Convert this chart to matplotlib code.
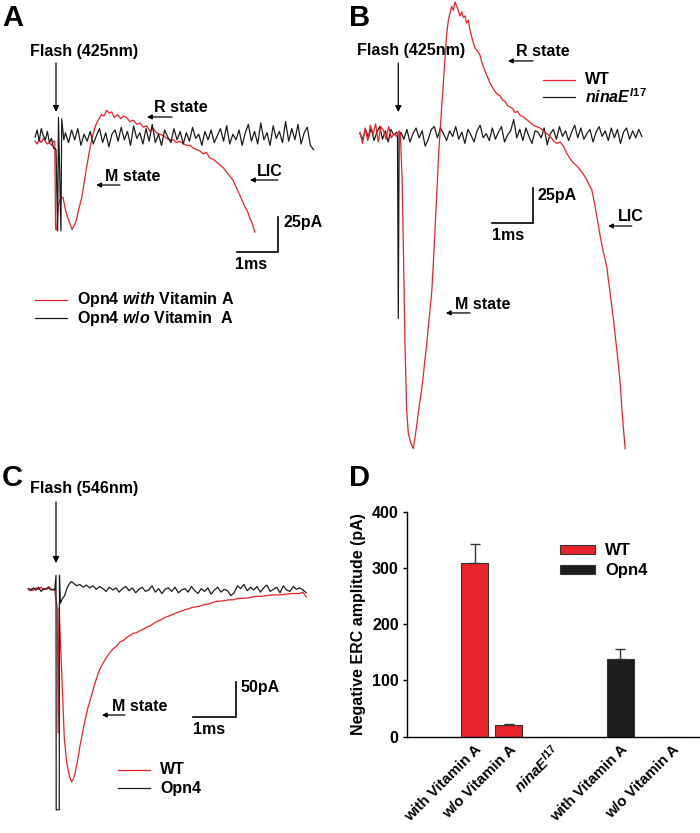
import matplotlib.pyplot as plt
import numpy as np
from matplotlib.patches import Patch

plt.rcParams['font.family'] = ['Liberation Sans', 'DejaVu Sans']
plt.rcParams['font.weight'] = 'bold'
plt.rcParams['mathtext.fontset'] = 'custom'
plt.rcParams['mathtext.it'] = 'Liberation Sans:italic:bold'
plt.rcParams['mathtext.rm'] = 'Liberation Sans:bold'

RED = '#e8232a'
BLACK = '#1c1c1c'
FS = 11.5

# ---------------- data (time in ms, current in pA) ----------------
# panel A : Opn4 with / without vitamin A, 425 nm flash
a_red_pre = [-3, -5, -2, -4, -1, -3, -5, -4, -6, -3]
a_red = [(-0.03, -3), (-0.01, -66), (0.02, -66), (0.06, -48), (0.11, -44), (0.17, -43),
         (0.23, -52), (0.28, -57), (0.33, -61), (0.39, -66), (0.45, -63), (0.50, -59),
         (0.56, -51), (0.63, -43), (0.69, -32), (0.75, -21), (0.81, -11), (0.87, -2),
         (0.93, 5), (0.99, 10), (1.05, 13), (1.11, 16), (1.17, 15), (1.24, 19), (1.30, 17),
         (1.36, 18), (1.42, 14), (1.50, 16), (1.58, 13), (1.64, 15), (1.72, 14), (1.80, 11),
         (1.89, 12), (1.97, 9), (2.05, 10), (2.13, 7), (2.21, 8), (2.29, 4), (2.37, 6),
         (2.45, 3), (2.53, 2), (2.62, 1), (2.70, -1), (2.78, -2), (2.86, -2), (2.94, -4),
         (3.02, -3), (3.11, -5), (3.19, -6), (3.27, -6), (3.35, -8), (3.43, -9), (3.51, -10),
         (3.59, -12), (3.67, -11), (3.75, -15), (3.84, -16), (3.92, -18), (4.00, -20),
         (4.08, -22), (4.16, -25), (4.24, -28), (4.32, -31), (4.41, -37), (4.49, -42),
         (4.55, -46), (4.61, -50), (4.67, -53), (4.73, -58), (4.79, -62), (4.85, -68)]
a_black_pre = [0, 5, -3, 6, 1, -2, 4, -4, -1, -8]
a_black_art = [(-0.03, -8), (0.0, -9), (0.04, -67), (0.06, 14), (0.12, -67), (0.14, 13), (0.19, -2)]
a_black_post = [3, -4, 5, -2, 6, -6, 2, -3, 4, -5, 1, 6, -4, 3, -7, 2, 5, -3, 7, -2, 4, -6,
                8, -1, 3, -5, 6, -3, 9, -4, 2, -6, 5, 0, -4, 6, -2, 4, -5, 3, -3, 7, -1, 2,
                -6, 4, -2, 5, -4, 1, 6, -3, 8, -5, 2, -2, 5, -6, 3, 9, -3, 4, -5, 10, -2, 3,
                -6, 8, -1, 4, -4, 11, -3, 6, -2, 9, -5, 3, 7, -6, -9]

# panel B : WT and ninaE^I17, 425 nm flash
b_red_pre = [2, -6, 5, -4, 7, 0, 8, -5, 6, 3, -3, 6, -2, 1, -1, 3]
b_red = [(0.05, 0), (0.09, -30), (0.12, -77), (0.16, -149), (0.20, -196), (0.24, -213),
         (0.30, -220), (0.36, -224), (0.40, -216), (0.44, -208), (0.48, -198), (0.52, -190),
         (0.56, -182), (0.60, -172), (0.64, -160), (0.68, -150), (0.72, -137), (0.76, -125),
         (0.80, -113), (0.84, -92), (0.88, -68), (0.92, -44), (0.96, -18), (1.00, 2),
         (1.04, 20), (1.08, 37), (1.12, 55), (1.16, 72), (1.20, 82), (1.24, 87), (1.28, 92),
         (1.32, 89), (1.36, 95), (1.40, 92), (1.44, 89), (1.48, 85), (1.52, 88), (1.56, 84),
         (1.60, 85), (1.64, 80), (1.68, 82), (1.72, 75), (1.76, 70), (1.80, 66), (1.84, 62),
         (1.90, 60), (1.96, 57), (2.00, 52), (2.04, 49), (2.10, 44), (2.16, 40), (2.20, 37),
         (2.26, 34), (2.32, 31), (2.38, 29), (2.44, 28), (2.50, 25), (2.56, 24), (2.62, 21),
         (2.68, 20), (2.74, 19), (2.80, 16), (2.86, 17), (2.92, 14), (3.00, 13), (3.08, 11),
         (3.16, 9), (3.24, 7), (3.32, 6), (3.40, 5), (3.48, 3), (3.56, 1), (3.64, -1),
         (3.72, -4), (3.80, -6), (3.88, -5), (3.96, -8), (4.04, -13), (4.12, -17), (4.20, -20),
         (4.28, -22), (4.36, -25), (4.44, -28), (4.52, -32), (4.58, -36), (4.64, -39),
         (4.68, -45), (4.72, -51), (4.76, -58), (4.80, -65), (4.84, -72), (4.88, -78),
         (4.92, -84), (4.96, -89), (5.00, -94), (5.04, -104), (5.08, -113), (5.12, -122),
         (5.16, -132), (5.20, -143), (5.24, -153), (5.28, -165), (5.32, -177), (5.36, -195),
         (5.40, -210), (5.44, -224)]
b_black_pre = [1, -3, 4, -2, 5, -4, 2, 6, -3, 3, -5, 4, 0, 2]
b_black_art = [(-0.02, 1), (0.0, -131), (0.02, 0)]
b_black_post = [2, -3, 4, -5, 1, 5, -2, 3, -8, -3, 4, 6, -2, 5, 1, -4, 3, -1, 6, -3, 2, -6,
                4, 0, -5, 3, 7, -2, 1, -4, 5, -3, 2, 6, -5, 0, 3, 11, -2, 4, -4, 5, -1, -6,
                3, 2, -2, 5, -7, 1, 4, -3, 6, -1, 3, -4, 2, 7, -2, 5, -3, 1, 4, -5, 2, 6, -1,
                3, -4, 5, -2, 4, -6, 2, 5, -3, 3, -2, 4, -1]

# panel C : WT and Opn4, 546 nm flash
c_red_pre = [0, 2, -1, 3, 1, 4, 0, 2, 5, 1, 0]
c_red = [(-0.03, 0), (0.03, -26), (0.05, -204), (0.07, -26), (0.13, -114), (0.19, -210),
         (0.24, -243), (0.28, -257), (0.32, -268), (0.36, -274), (0.40, -270), (0.44, -262),
         (0.50, -243), (0.55, -224), (0.61, -205), (0.67, -186), (0.73, -170), (0.79, -157),
         (0.85, -144), (0.90, -133), (0.96, -122), (1.02, -112), (1.09, -104), (1.17, -96),
         (1.24, -90), (1.32, -84), (1.40, -80), (1.48, -74), (1.56, -72), (1.63, -68),
         (1.71, -65), (1.78, -62), (1.86, -61), (1.94, -58), (2.02, -56), (2.10, -53),
         (2.18, -51), (2.25, -48), (2.33, -45), (2.41, -43), (2.49, -40), (2.57, -38),
         (2.65, -36), (2.73, -34), (2.81, -32), (2.90, -30), (2.98, -28), (3.06, -27),
         (3.14, -25), (3.24, -24), (3.32, -23), (3.42, -21), (3.52, -20), (3.62, -18),
         (3.71, -16), (3.80, -16), (3.90, -15), (4.00, -14), (4.09, -14), (4.20, -12),
         (4.32, -12), (4.48, -11), (4.60, -9), (4.75, -9), (4.86, -8), (5.00, -7), (5.15, -7),
         (5.32, -6), (5.45, -5), (5.63, -5), (5.70, -3), (5.78, -10)]
c_black_pre = [2, -1, 3, 0, 4, -2, 2, 1, 3, 0, 1]
c_black_art = [(-0.03, 0), (0.0, 21), (0.005, -314), (0.075, -314), (0.08, 21), (0.10, -19),
               (0.15, -12), (0.20, -8), (0.25, 2), (0.30, 8), (0.35, 12)]
c_black_post = [10, 6, 8, 4, 7, 3, 6, 1, 5, 2, -2, 4, 0, 3, -3, 2, 5, -1, 3, -4, 1, 4, -2, 0,
                6, -3, 2, -5, 1, 3, -2, 4, -4, 0, 2, -3, 5, -1, -5, 2, -2, 3, -6, 0, 4, -3, 1,
                -1, -8, -4, 6, 2, 8, -1, 4, 0, 5, -3, 3, 7, -2, 1, 4, -4, 6, 0, -2, 5, 1, 3,
                0, -4]

# panel D : bar chart
d_labels = ['with Vitamin A', 'w/o Vitamin A', r'$\mathit{ninaE}^{\mathit{I17}}$',
            'with Vitamin A', 'w/o Vitamin A']
d_group = ['WT', 'WT', 'WT', 'Opn4', 'Opn4']
d_values = [308, 20, 0, 139, 0]
d_errors = [35, 3, 0, 17, 0]


def trace(pre, pre_span, main, post=None, post_span=None):
    t = list(np.linspace(pre_span[0], pre_span[1], len(pre)))
    y = list(pre)
    t += [p[0] for p in main]
    y += [p[1] for p in main]
    if post is not None:
        t += list(np.linspace(post_span[0], post_span[1], len(post)))
        y += list(post)
    return t, y


W, H = 700, 833
fig = plt.figure(figsize=(7, 8.33), dpi=100)


def panel_axes(left, top, width, height, x0, y0, px_ms, px_pa):
    ax = fig.add_axes([left / W, 1 - (top + height) / H, width / W, height / H])
    ax.set_xlim((left - x0) / px_ms, (left + width - x0) / px_ms)
    ax.set_ylim((y0 - top - height) / px_pa, (y0 - top) / px_pa)
    ax.axis('off')
    return ax


def arrow(ax, tip, tail, ms=9):
    ax.annotate('', xy=tip, xytext=tail,
                arrowprops=dict(arrowstyle='-|>', color='k', lw=0.9,
                                mutation_scale=ms, shrinkA=0, shrinkB=0))


def label(ax, x, y, s, **kw):
    ax.text(x, y, s, fontsize=FS, fontweight='bold', ha='left', va='center', **kw)


def scale_bar(ax, x, y, dx, dy):
    ax.plot([x, x + dx, x + dx], [y, y, y + dy], color='k', lw=1.2, solid_joinstyle='miter')


# ---------------- panel A ----------------
ax = panel_axes(0, 0, 350, 460, 56, 137, 41, 1.4)
t, y = trace(a_red_pre, (-0.51, -0.06), a_red)
ax.plot(t, y, color=RED, lw=0.9)
t, y = trace(a_black_pre, (-0.51, -0.06), a_black_art, a_black_post, (0.23, 6.28))
ax.plot(t, y, color=BLACK, lw=0.9)
label(ax, -0.63, 61.4, 'Flash (425nm)')
arrow(ax, (0, 17.9), (0, 52.9))
label(ax, 2.39, 21.4, 'R state')
arrow(ax, (2.22, 14.3), (2.83, 14.3), 7)
label(ax, 1.20, -27.9, 'M state')
arrow(ax, (0.98, -34.3), (1.56, -34.3), 7)
label(ax, 4.90, -24.3, 'LIC')
arrow(ax, (4.73, -30.7), (5.41, -30.7), 7)
scale_bar(ax, 4.41, -82.1, 1.0, 25)
label(ax, 5.54, -61.4, '25pA')
label(ax, 4.37, -91.4, '1ms')
ax.plot([-0.51, 0.27], [-116.4, -116.4], color=RED, lw=0.9)
label(ax, 0.51, -116.4, r'Opn4 $\mathit{with}$ Vitamin A')
ax.plot([-0.51, 0.27], [-129.3, -129.3], color=BLACK, lw=0.9)
label(ax, 0.51, -129.3, r'Opn4 $\mathit{w/o}$ Vitamin  A')

# ---------------- panel B ----------------
ax = panel_axes(350, 0, 350, 460, 398.3, 135, 41.7, 1.4)
t, y = trace(b_black_pre, (-0.92, -0.04), b_black_art, b_black_post, (0.06, 5.84))
ax.plot(t, y, color=BLACK, lw=0.9)
t, y = trace(b_red_pre, (-0.92, 0.02), b_red)
ax.plot(t, y, color=RED, lw=0.9, clip_on=False)
label(ax, -0.99, 60.0, 'Flash (425nm)')
arrow(ax, (0, 16.4), (0, 51.4))
label(ax, 2.82, 59.3, 'R state')
arrow(ax, (2.63, 52.9), (3.23, 52.9), 7)
ax.plot([3.47, 4.24], [39.3, 39.3], color=RED, lw=0.9)
label(ax, 4.48, 39.3, 'WT')
ax.plot([3.47, 4.24], [27.1, 27.1], color=BLACK, lw=0.9)
label(ax, 4.48, 27.1, r'$\mathit{ninaE}^{\mathit{I17}}$')
scale_bar(ax, 2.24, -62.9, 1.0, 25)
label(ax, 3.35, -42.9, '25pA')
label(ax, 2.25, -72.1, '1ms')
label(ax, 5.27, -57.9, 'LIC')
arrow(ax, (5.03, -65.0), (5.60, -65.0), 7)
label(ax, 1.36, -121.4, 'M state')
arrow(ax, (1.14, -127.1), (1.72, -127.1), 7)

# ---------------- panel C ----------------
ax = panel_axes(0, 460, 350, 373, 56, 590, 43.3, 0.7)
t, y = trace(c_red_pre, (-0.64, -0.05), c_red)
ax.plot(t, y, color=RED, lw=0.9)
t, y = trace(c_black_pre, (-0.64, -0.05), c_black_art, c_black_post, (0.40, 5.78))
ax.plot(t, y, color=BLACK, lw=0.9)
label(ax, -0.60, 145.7, 'Flash (546nm)')
arrow(ax, (0, 38.6), (0, 125.7))
label(ax, 1.29, -167, 'M state')
arrow(ax, (1.06, -178.6), (1.59, -178.6), 7)
scale_bar(ax, 3.16, -181.4, 1.0, 50)
label(ax, 4.25, -138.6, '50pA')
label(ax, 3.16, -200, '1ms')
ax.plot([1.43, 2.17], [-257, -257], color=RED, lw=0.9)
label(ax, 2.40, -257, 'WT')
ax.plot([1.43, 2.17], [-283, -283], color=BLACK, lw=0.9)
label(ax, 2.40, -283, 'Opn4')

# ---------------- panel D ----------------
ax = fig.add_axes([407 / W, (H - 736.7) / H, 293 / W, 225 / H])
pos = [0, 1, 2.25, 4.29, 5.8]
colors = [RED if g == 'WT' else BLACK for g in d_group]
ax.bar(pos, d_values, width=0.8, color=colors, edgecolor='#333333', linewidth=0.8)
err_idx = [i for i, e in enumerate(d_errors) if e > 0]
ax.errorbar([pos[i] for i in err_idx], [d_values[i] for i in err_idx],
            yerr=[[0] * len(err_idx), [d_errors[i] for i in err_idx]],
            fmt='none', ecolor='#333333', elinewidth=1, capsize=3.5, capthick=1)
ax.set_xlim(-1.99, 6.63)
ax.set_ylim(0, 400)
ax.set_yticks([0, 100, 200, 300, 400])
ax.set_xticks(pos)
ax.set_xticklabels(d_labels, rotation=45, ha='right', rotation_mode='anchor')
ax.tick_params(axis='x', length=0, pad=4, labelsize=10.8)
ax.tick_params(axis='y', direction='out', length=3, width=1, labelsize=FS, pad=3)
for s in ['top', 'right']:
    ax.spines[s].set_visible(False)
ax.spines['left'].set_linewidth(1)
ax.spines['bottom'].set_linewidth(1)
ax.set_ylabel('Negative ERC amplitude (pA)', fontsize=FS, fontweight='bold', labelpad=4)
handles = [Patch(facecolor=RED, edgecolor='#333333', lw=0.8, label='WT'),
           Patch(facecolor=BLACK, edgecolor='#333333', lw=0.8, label='Opn4')]
ax.legend(handles=handles, loc='upper left', bbox_to_anchor=(0.5, 0.89), frameon=False,
          fontsize=FS + 0.5, handlelength=2.1, handleheight=0.45, handletextpad=0.6,
          labelspacing=0.3, borderaxespad=0)

# panel letters
for lab, x, y in [('A', 2, 4), ('B', 349, 4), ('C', 2, 464), ('D', 349, 464)]:
    fig.text(x / W, 1 - y / H, lab, fontsize=21, fontweight='bold', va='top', ha='left')

fig.savefig('out.png', dpi=100, facecolor='white')
